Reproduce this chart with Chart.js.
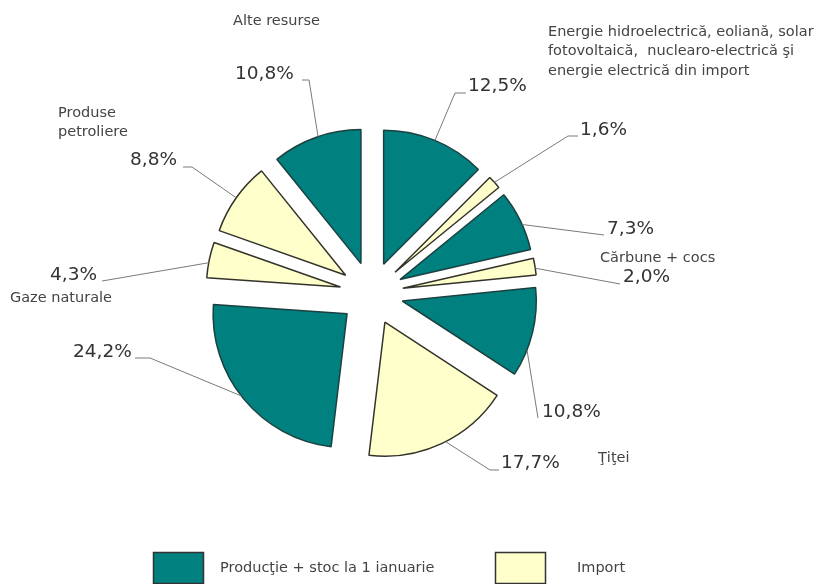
<!DOCTYPE html>
<html>
<head>
<meta charset="utf-8">
<script src="https://cdn.jsdelivr.net/npm/chart.js@4/dist/chart.umd.min.js"></script>
<style>
  html, body { margin: 0; padding: 0; background: #fff; }
  canvas { display: block; }
</style>
</head>
<body>
<canvas id="energy-chart" width="823" height="584"></canvas>
<script>
// Data - slices clockwise from 12 o'clock
const SLICE_RESOURCES = [
  'Energie electrică', 'Energie electrică', 'Cărbune + cocs', 'Cărbune + cocs',
  'Ţiţei', 'Ţiţei', 'Gaze naturale', 'Gaze naturale', 'Produse petroliere', 'Alte resurse'
];
const SLICE_SOURCES = [0, 1, 0, 1, 0, 1, 0, 1, 1, 0]; // 0 = productie, 1 = import
const SHARES = [12.5, 1.6, 7.3, 2.0, 10.8, 17.7, 24.2, 4.3, 8.8, 10.8];
const LEGEND_LABELS = ['Producţie + stoc la 1 ianuarie', 'Import'];
const GROUP_LABELS = [
  ['Alte resurse'],
  ['Energie hidroelectrică, eoliană, solar', 'fotovoltaică,  nuclearo-electrică şi', 'energie electrică din import'],
  ['Produse', 'petroliere'],
  ['Gaze naturale'],
  ['Cărbune + cocs'],
  ['Ţiţei']
];

const COLORS = ['#00807f', '#ffffcc'];
const BORDERS = ['#1c4040', '#33332a'];
const FONT = '"DejaVu Sans", Verdana, sans-serif';
const EXPLODE = 31.7;

// where each percentage sits and how its leader line runs (slice index order)
const CALLOUTS = [
  { at: 0.50, text: [468, 86], path: [[455, 93], [466, 93]] },
  { at: 0.50, text: [580, 130], path: [[568, 136], [578, 136]] },
  { at: 0.57, text: [607, 229], path: [[604, 235]] },
  { at: 0.60, text: [623, 277], path: [[620, 284]] },
  { at: 0.70, text: [542, 412], path: [[538, 418]] },
  { at: 0.47, text: [501, 463], path: [[490, 470], [499, 470]] },
  { at: 0.52, text: [73, 352], path: [[150, 358], [135, 358]] },
  { at: 0.42, text: [50, 275], path: [[102, 281]] },
  { at: 0.50, text: [130, 160], path: [[192, 167], [183, 167]] },
  { at: 0.52, text: [235, 74], path: [[309, 80], [302, 80]] }
];
const GROUP_POS = [[233, 21], [548, 32], [58, 113], [10, 298], [600, 258], [598, 458]];
const LEGEND_POS = [[153, 552, 220], [495, 552, 577]];

const fmt = v => v.toFixed(1).replace('.', ',') + '%';

// push every slice out from the centre along its mid angle
const explodePlugin = {
  id: 'explode',
  afterDatasetsUpdate(chart) {
    const a = chart.chartArea;
    const cx = (a.left + a.right) / 2, cy = (a.top + a.bottom) / 2;
    chart.getDatasetMeta(0).data.forEach(arc => {
      const mid = (arc.startAngle + arc.endAngle) / 2;
      arc.x = cx + Math.cos(mid) * EXPLODE;
      arc.y = cy + Math.sin(mid) * EXPLODE;
    });
  }
};

const calloutPlugin = {
  id: 'callouts',
  afterDraw(chart) {
    const ctx = chart.ctx;
    const arcs = chart.getDatasetMeta(0).data;
    ctx.save();
    ctx.strokeStyle = '#7a7a7a';
    ctx.lineWidth = 1;
    arcs.forEach((arc, i) => {
      const c = CALLOUTS[i];
      const t = arc.startAngle + c.at * (arc.endAngle - arc.startAngle);
      ctx.beginPath();
      ctx.moveTo(arc.x + Math.cos(t) * arc.outerRadius, arc.y + Math.sin(t) * arc.outerRadius);
      c.path.forEach(p => ctx.lineTo(p[0], p[1]));
      ctx.stroke();
    });

    ctx.fillStyle = '#333';
    ctx.textBaseline = 'middle';
    ctx.textAlign = 'left';
    ctx.font = '18.5px ' + FONT;
    SHARES.forEach((v, i) => ctx.fillText(fmt(v), CALLOUTS[i].text[0], CALLOUTS[i].text[1]));

    ctx.fillStyle = '#444';
    ctx.font = '14.5px ' + FONT;
    GROUP_LABELS.forEach((lines, g) => {
      lines.forEach((line, k) => ctx.fillText(line, GROUP_POS[g][0], GROUP_POS[g][1] + k * 19.5));
    });

    // legend
    LEGEND_LABELS.forEach((label, k) => {
      const [bx, by, tx] = LEGEND_POS[k];
      ctx.fillStyle = COLORS[k];
      ctx.fillRect(bx, by, 50, 31);
      ctx.strokeStyle = '#333';
      ctx.lineWidth = 1.5;
      ctx.strokeRect(bx + 0.5, by + 0.5, 50, 31);
      ctx.fillStyle = '#444';
      ctx.fillText(label, tx, by + 16);
    });
    ctx.restore();
  }
};

new Chart(document.getElementById('energy-chart'), {
  type: 'pie',
  data: {
    labels: SLICE_RESOURCES,
    datasets: [{
      data: SHARES,
      backgroundColor: SLICE_SOURCES.map(s => COLORS[s]),
      borderColor: SLICE_SOURCES.map(s => BORDERS[s]),
      borderWidth: 1.5
    }]
  },
  options: {
    responsive: false,
    animation: false,
    radius: 134,
    layout: { padding: { left: 40, right: 120, top: 23, bottom: 20 } },
    plugins: {
      legend: { display: false },
      tooltip: { enabled: false }
    }
  },
  plugins: [explodePlugin, calloutPlugin]
});
</script>
</body>
</html>
